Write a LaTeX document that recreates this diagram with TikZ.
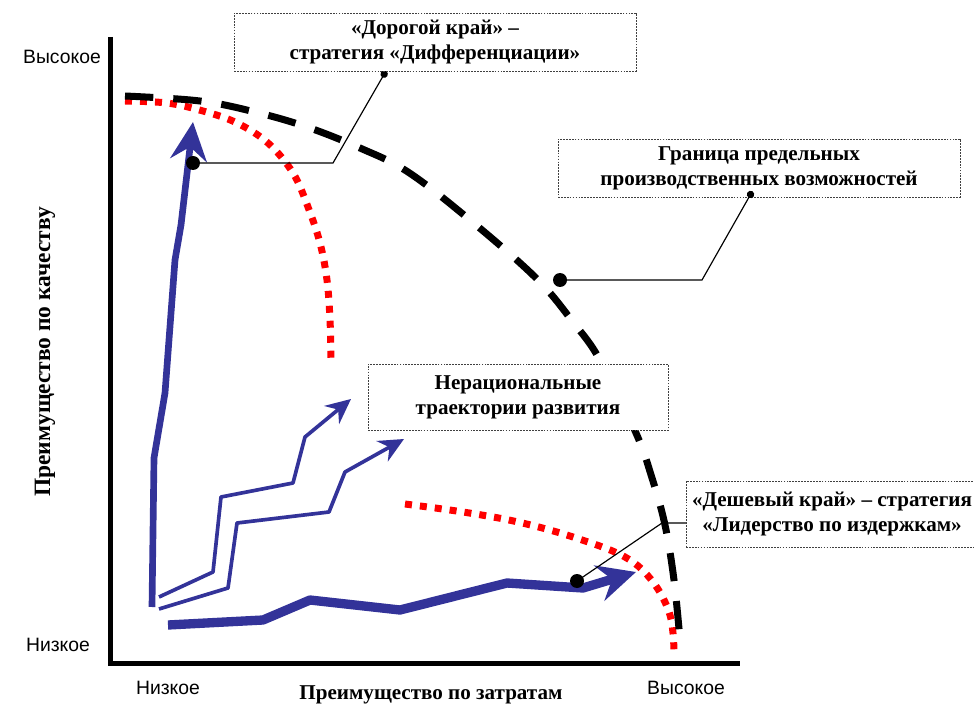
\documentclass[tikz,border=0pt]{standalone}
\usepackage{fontspec}
\setmainfont{Liberation Serif}
\newfontfamily\sansfnt{Liberation Sans}
\usetikzlibrary{arrows.meta,positioning}
\definecolor{trajblue}{RGB}{51,51,153}

\begin{document}
\begin{tikzpicture}[x=0.3mm,y=-0.3mm,
    axis/.style={line width=1.5mm},
    frontier/.style={line width=2.1mm,dash pattern=on 8.5mm off 6mm},
    reddots/.style={red,line width=2.1mm,dash pattern=on 2.1mm off 2.4mm},
    bigtraj/.style={draw=trajblue,line width=#1,line join=round,
        -{Stealth[length=11.5mm,width=11mm,inset=4mm]}},
    thintraj/.style={draw=trajblue,line width=1.1mm,line join=round,
        -{Stealth[length=7.5mm,width=7mm,inset=2.5mm]}},
    note/.style={draw=black!75,fill=white,line width=.5pt,dash pattern=on 1.5pt off 1pt,
        align=center,font=\bfseries\fontsize{18}{21.5}\selectfont,inner sep=0pt},
    marker/.style={circle,fill=black,inner sep=0pt,minimum size=4.2mm},
    leader/.style={line width=1pt,-{Circle[length=2.2mm]}},
    axlbl/.style={font=\sansfnt\fontsize{16.5}{19}\selectfont,inner sep=0pt},
    axtitle/.style={font=\bfseries\fontsize{#1}{22}\selectfont,inner sep=0pt}]
  \useasboundingbox (0,0) rectangle (974,704);

  \draw[axis] (110,37) -- (110,663) -- (740,663);
  \node[axlbl] (yhi) at (62,57) {Высокое};
  \node[axlbl] (ylo) at (58,645) {Низкое};
  \node[axlbl] (xlo) at (168,688) {Низкое};
  \node[axlbl] (xhi) at (686,688) {Высокое};
  \node[axtitle=20,rotate=90] (ytit) at (45,352) {Преимущество по качеству};
  \node[axtitle=18,anchor=base] (xtit) at (431,699) {Преимущество по затратам};

  \draw[reddots] plot[smooth,tension=.6] coordinates {(125,101) (167,103) (203,111)
      (237,123) (268,143) (293,173) (308,207) (320,243) (327,280) (330,320) (331,358)};
  \draw[reddots] plot[smooth,tension=.6] coordinates {(405,504) (463,512) (518,522)
      (573,537) (625,557) (653,582) (670,615) (674,650)};
  \draw[frontier] plot[smooth,tension=.6] coordinates {(125,96) (200,101) (255,112)
      (307,127) (360,148) (408,172) (470,220) (536,278) (573,322) (600,360)
      (636,433) (652,478) (665,525) (674,580) (680,640)};

  \draw[bigtraj=2mm] (152,607) -- (154,458) -- (165,393) -- (175,260) -- (181,225) -- (193,122);
  \draw[thintraj] (159,597) -- (213,572) -- (221,497) -- (293,483) -- (305,437) -- (351,399);
  \draw[thintraj] (159,609) -- (228,588) -- (237,523) -- (329,512) -- (345,472) -- (404,439);
  \draw[bigtraj=2.8mm] (168,625) -- (263,620) -- (310,600) -- (400,610) -- (507,583) -- (583,588) -- (636,572);

  \node[marker] (diff) at (193,163) {};
  \node[marker] (ppf) at (560,280) {};
  \node[marker] (cost) at (577,581) {};

  \node[note,minimum width=120.6mm,minimum height=17.4mm] (gran) at (759,168)
      {Граница предельных\\производственных возможностей};
  \coordinate (k2) at (702,280);
  \coordinate (e2) at ([xshift=-2mm,yshift=1.8mm]gran.south);
  \draw[leader] (ppf.center) -- (k2) -- (e2);

  \coordinate (k1) at (333,163);
  \coordinate (k3) at (662,523);
  \draw[leader] (diff.center) -- (k1) -- (386,71);
  \draw[line width=1pt] (cost.center) -- (k3) -- (690,523);

  \node[note,minimum width=120.6mm,minimum height=17.4mm] (dorog) at (435,42)
      {«Дорогой край» –\\стратегия «Дифференциации»};
  \node[note,minimum width=90mm,minimum height=19.8mm] (irr) at (518,397)
      {Нерациональные\\траектории развития};
  \node[note,minimum width=87.6mm,minimum height=19.8mm] (cheap) at (832,514)
      {«Дешевый край» – стратегия\\«Лидерство по издержкам»};
\end{tikzpicture}
\end{document}
